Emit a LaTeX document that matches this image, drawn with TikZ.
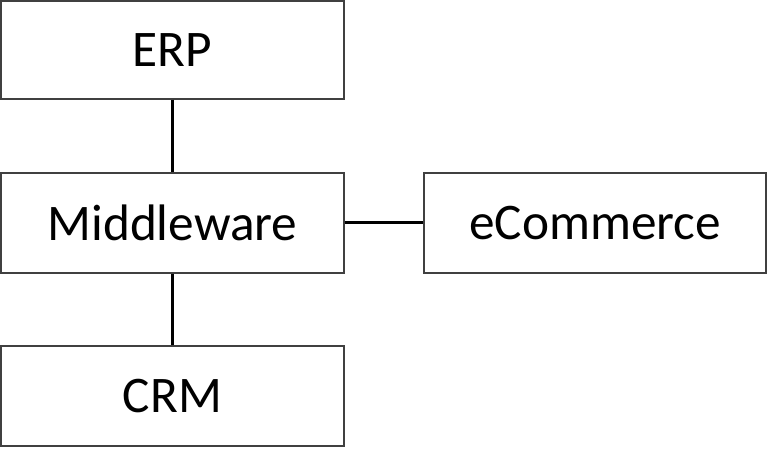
\documentclass[tikz,border=0pt]{standalone}
\usepackage{fontspec}
\setmainfont{Carlito}
\begin{document}
\begin{tikzpicture}[x=1bp,y=-1bp,
  sysbox/.style={draw=black!75, line width=1.5bp, fill=white, inner sep=0pt, font=\fontsize{51.5}{60}\selectfont},
  link/.style={draw=black, line width=3bp}]
\useasboundingbox (0,0) rectangle (767,457);
\node[sysbox, minimum width=343bp, minimum height=98bp] (erp) at (172.5,50) {ERP};
\node[sysbox, minimum width=343bp, minimum height=100bp] (mid) at (172.5,223) {Middleware};
\node[sysbox, minimum width=343bp, minimum height=100bp] (crm) at (172.5,396) {CRM};
\node[sysbox, minimum width=342bp, minimum height=100bp] (eco) at (595,223) {eCommerce};
\draw[link] (erp.south) -- (mid.north);
\draw[link] (mid.south) -- (crm.north);
\draw[link] (mid.east) -- (eco.west);
\end{tikzpicture}
\end{document}
